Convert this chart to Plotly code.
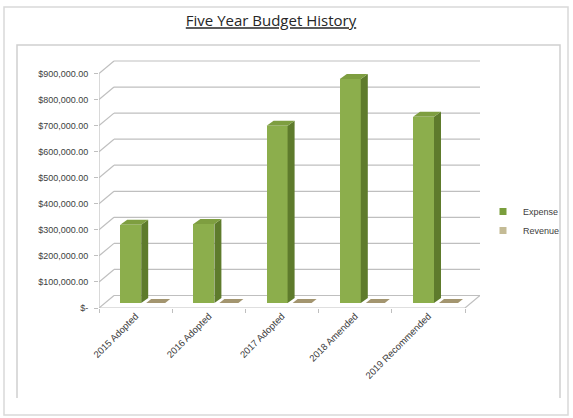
import plotly.graph_objects as go

# ---- data ----
categories = ["2015 Adopted", "2016 Adopted", "2017 Adopted", "2018 Amended", "2019 Recommended"]
expense = [300000, 303000, 680000, 860000, 715000]
revenue = [0, 0, 0, 0, 0]
y_ticks = [0, 100000, 200000, 300000, 400000, 500000, 600000, 700000, 800000, 900000]
y_tick_text = ["$-", "$100,000.00", "$200,000.00", "$300,000.00", "$400,000.00",
               "$500,000.00", "$600,000.00", "$700,000.00", "$800,000.00", "$900,000.00"]

# ---- layout geometry (px) ----
WID, HEI = 573, 418
L, R, T, B = 99, 93, 56, 110
W = WID - L - R
H = HEI - T - B
DEPTH_X, DEPTH_Y = 15, 12.5          # back wall offset in px
n = len(categories)
xspan = n / (1 - DEPTH_X / W)
ppx = W / xspan                       # px per x unit
ppy = 234.5 / 900000                  # px per value unit
ymax = H / ppy
x0 = -0.5
gdx = DEPTH_X / ppx
gdy = DEPTH_Y / ppy

xs = list(range(n))
bar_off = -15.4 / ppx
bar_w = 21 / ppx
bar_base = 5 / ppy
side_dx = 7 / ppx
side_dy = 5 / ppy

FRONT = "#8CAE4C"
SIDE = "#5E7B2C"
TOP = "#7E9E40"
REV = "#C4BB95"
REV_TOP = "#A3956F"
GRID = "#BFBFBF"

fig = go.Figure()
fig.add_trace(go.Bar(
    x=xs, y=expense, base=[bar_base] * n, offset=bar_off, width=bar_w,
    name="Expense", marker=dict(color=FRONT, line=dict(width=0)), showlegend=False,
))
fig.add_trace(go.Bar(
    x=xs, y=revenue, base=[bar_base] * n, offset=bar_off, width=bar_w,
    name="Revenue", marker=dict(color=REV, line=dict(width=0)), showlegend=False,
))
# legend entries with small square swatches
fig.add_trace(go.Scatter(x=[None], y=[None], mode="markers", name="Expense",
                         marker=dict(symbol="square", size=7, color="#7A9E3C")))
fig.add_trace(go.Scatter(x=[None], y=[None], mode="markers", name="Revenue",
                         marker=dict(symbol="square", size=7, color=REV)))

shapes = []
# back wall gridlines + left wall diagonals
for v in y_ticks:
    shapes.append(dict(type="line", xref="x", yref="y", x0=x0, y0=v, x1=x0 + gdx, y1=v + gdy,
                       line=dict(color=GRID, width=1.2), layer="below"))
    shapes.append(dict(type="line", xref="x", yref="y", x0=x0 + gdx, y0=v + gdy, x1=x0 + n + gdx, y1=v + gdy,
                       line=dict(color=GRID, width=1.2), layer="below"))
# front vertical axis
shapes.append(dict(type="line", xref="x", yref="y", x0=x0, y0=0, x1=x0, y1=y_ticks[-1],
                   line=dict(color=GRID, width=1.2), layer="below"))
# floor front edge and right diagonal
shapes.append(dict(type="line", xref="x", yref="y", x0=x0, y0=0, x1=x0 + n, y1=0,
                   line=dict(color=GRID, width=1.2), layer="below"))
shapes.append(dict(type="line", xref="x", yref="y", x0=x0 + n, y0=0, x1=x0 + n + gdx, y1=gdy,
                   line=dict(color=GRID, width=1.2), layer="below"))

# 3D faces for expense bars
for xi, v in zip(xs, expense):
    xl = xi + bar_off
    xr = xl + bar_w
    b0 = bar_base
    b1 = bar_base + v
    shapes.append(dict(type="path", xref="x", yref="y",
                       path=f"M{xr},{b0} L{xr + side_dx},{b0 + side_dy} L{xr + side_dx},{b1 + side_dy} L{xr},{b1} Z",
                       fillcolor=SIDE, line=dict(width=0), layer="above"))
    shapes.append(dict(type="path", xref="x", yref="y",
                       path=f"M{xl},{b1} L{xl + side_dx},{b1 + side_dy} L{xr + side_dx},{b1 + side_dy} L{xr},{b1} Z",
                       fillcolor=TOP, line=dict(width=0), layer="above"))

# revenue bars (zero height: only top face visible)
rev_off = 10.6 / ppx
rev_w = 19 / ppx
rdx = 5 / ppx
rdy = 4 / ppy
for xi, v in zip(xs, revenue):
    xl = xi + rev_off
    xr = xl + rev_w
    b1 = bar_base + v
    shapes.append(dict(type="path", xref="x", yref="y",
                       path=f"M{xl},{b1} L{xl + rdx},{b1 + rdy} L{xr + rdx},{b1 + rdy} L{xr},{b1} Z",
                       fillcolor=REV_TOP, line=dict(width=0), layer="above"))

# frames (paper coords from px)
def px_x(p):
    return (p - L) / W

def px_y(p):
    return (HEI - B - p) / H

shapes.append(dict(type="rect", xref="paper", yref="paper",
                   x0=px_x(4), x1=px_x(568), y0=px_y(415), y1=px_y(7),
                   line=dict(color="#D9D9D9", width=1.5), layer="below"))
shapes.append(dict(type="path", xref="paper", yref="paper",
                   path=f"M{px_x(17)},{px_y(398)} L{px_x(17)},{px_y(45)} L{px_x(560)},{px_y(45)} L{px_x(560)},{px_y(398)}",
                   line=dict(color="#D0D0D0", width=1.5), layer="below"))

fig.update_layout(
    width=WID, height=HEI,
    margin=dict(l=L, r=R, t=T, b=B, autoexpand=False),
    paper_bgcolor="white", plot_bgcolor="rgba(0,0,0,0)",
    font=dict(family="Liberation Sans, Arial, sans-serif", size=9, color="#404040"),
    title=dict(text="<u>Five Year Budget History</u>", x=271 / WID, xanchor="center",
               xref="container", y=1 - 21 / HEI, yanchor="middle", yref="container",
               font=dict(family="Open Sans, sans-serif", size=15, color="#262626")),
    showlegend=True,
    legend=dict(x=px_x(483), xanchor="left", y=px_y(221), yanchor="middle",
                font=dict(size=9, color="#404040"), bgcolor="rgba(0,0,0,0)",
                itemwidth=30, tracegroupgap=0),
    shapes=shapes,
    barmode="overlay",
    bargap=0,
)
fig.update_xaxes(
    range=[x0, x0 + xspan], tickmode="array", tickvals=xs, ticktext=categories,
    tickangle=-45, showgrid=False, zeroline=False, showline=False,
    ticks="", ticklen=0,
    minor=dict(tickmode="array", tickvals=[x0 + i for i in range(n + 1)], ticks="outside",
               ticklen=4, tickcolor=GRID, showgrid=False),
    tickfont=dict(size=9.5, color="#404040"), fixedrange=True,
)
fig.update_yaxes(
    range=[0, ymax], tickmode="array", tickvals=y_ticks, ticktext=y_tick_text,
    showgrid=False, zeroline=False, showline=False,
    ticks="outside", ticklen=4, tickcolor=GRID, ticklabelstandoff=4,
    tickfont=dict(size=9, color="#404040"), fixedrange=True,
)

fig.write_html("out.html")
